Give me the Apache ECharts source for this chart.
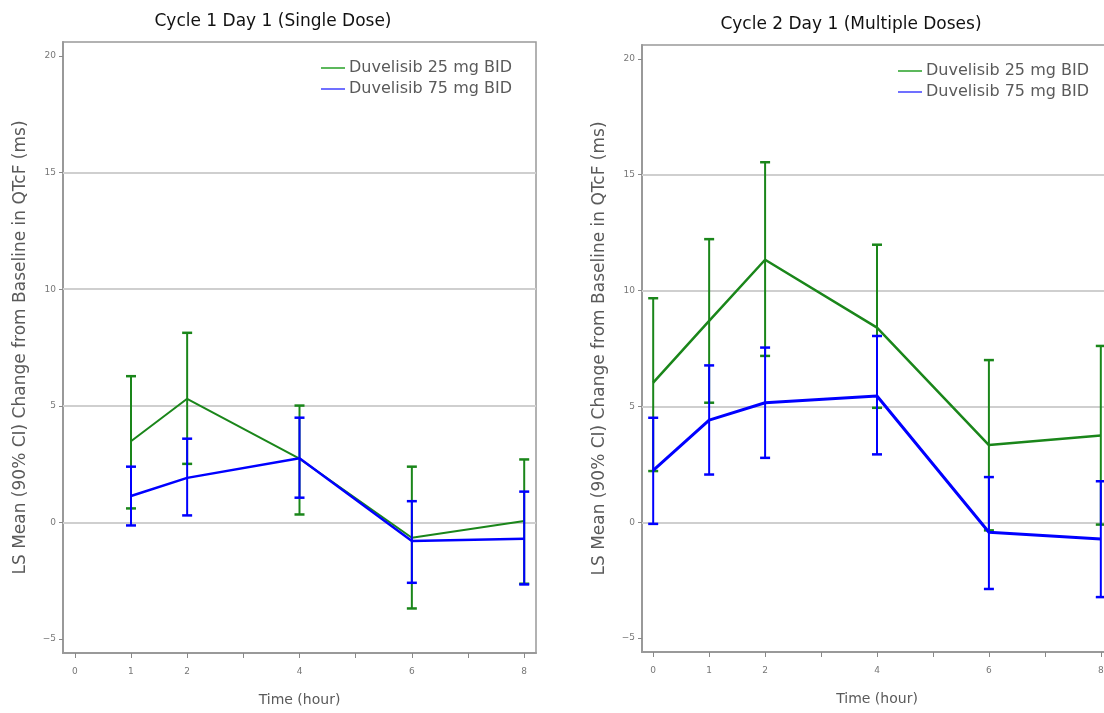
<!DOCTYPE html>
<html>
<head>
<meta charset="utf-8">
<script src="https://cdn.jsdelivr.net/npm/echarts@6/dist/echarts.min.js"></script>
<style>
  body { margin: 0; background: #fff; }
  #chart-container { width: 1104px; height: 713px; }
</style>
</head>
<body>
<div id="chart-container"></div>
<script>
// 数据
const seriesNames = ['Duvelisib 25 mg BID', 'Duvelisib 75 mg BID'];
const panelTitles = ['Cycle 1 Day 1 (Single Dose)', 'Cycle 2 Day 1 (Multiple Doses)'];

const c1Hours = [1, 2, 4, 6, 8];
const c1Mean25 = [3.48, 5.30, 2.73, -0.66, 0.06];
const c1Upper25 = [6.27, 8.13, 5.01, 2.39, 2.70];
const c1Lower25 = [0.60, 2.51, 0.34, -3.69, -2.63];
const c1Mean75 = [1.13, 1.91, 2.75, -0.80, -0.70];
const c1Upper75 = [2.39, 3.59, 4.49, 0.91, 1.32];
const c1Lower75 = [-0.13, 0.30, 1.06, -2.59, -2.66];

const c2Hours = [0, 1, 2, 4, 6, 8];
const c2Mean25 = [6.03, 8.69, 11.33, 8.40, 3.33, 3.75];
const c2Upper25 = [9.67, 12.22, 15.54, 11.98, 7.00, 7.61];
const c2Lower25 = [2.21, 5.16, 7.18, 4.94, -0.35, -0.10];
const c2Mean75 = [2.24, 4.41, 5.16, 5.45, -0.43, -0.72];
const c2Upper75 = [4.51, 6.77, 7.54, 8.04, 1.95, 1.77];
const c2Lower75 = [-0.07, 2.06, 2.78, 2.93, -2.88, -3.23];

const xTicks = [0, 1, 2, 3, 4, 5, 6, 7, 8];
const xTickLabels = [0, 1, 2, 4, 6, 8];
const yTicks = [-5, 0, 5, 10, 15, 20];
const refLines = [0, 5, 10, 15];

document.addEventListener('DOMContentLoaded', () => {
    const chart = echarts.init(document.getElementById('chart-container'));
    const font = 'DejaVu Sans';
    const green = '#1a861a';
    const blue = '#0000ff';
    const textGray = '#5a5a5a';

    // 误差线
    const errorBars = (name, color, hours, lower, upper, idx, z) => ({
        name: name,
        type: 'custom',
        xAxisIndex: idx,
        yAxisIndex: idx,
        z: z,
        silent: true,
        data: hours.map((h, i) => [h, lower[i], upper[i]]),
        renderItem: (params, api) => {
            const lo = api.coord([api.value(0), api.value(1)]);
            const hi = api.coord([api.value(0), api.value(2)]);
            const w = 5;
            return {
                type: 'group',
                children: [
                    { type: 'line', shape: { x1: lo[0], y1: lo[1], x2: hi[0], y2: hi[1] }, style: { stroke: color, lineWidth: 2 } },
                    { type: 'line', shape: { x1: lo[0] - w, y1: lo[1], x2: lo[0] + w, y2: lo[1] }, style: { stroke: color, lineWidth: 2.5 } },
                    { type: 'line', shape: { x1: hi[0] - w, y1: hi[1], x2: hi[0] + w, y2: hi[1] }, style: { stroke: color, lineWidth: 2.5 } }
                ]
            };
        }
    });

    const meanLine = (name, color, width, hours, mean, idx, z) => ({
        name: name,
        type: 'line',
        xAxisIndex: idx,
        yAxisIndex: idx,
        z: z,
        symbol: 'none',
        lineStyle: { color: color, width: width },
        itemStyle: { color: color },
        data: hours.map((h, i) => [h, mean[i]])
    });

    const gridLines = (idx) => ({
        type: 'line',
        xAxisIndex: idx,
        yAxisIndex: idx,
        data: [],
        silent: true,
        markLine: {
            silent: true,
            symbol: 'none',
            z: 1,
            label: { show: false },
            lineStyle: { color: '#cfcfcf', width: 2, type: 'solid' },
            data: refLines.map(v => ({ yAxis: v }))
        }
    });

    const xAxis = (idx) => ({
        type: 'value',
        gridIndex: idx,
        min: idx === 0 ? -0.21 : -0.2,
        max: idx === 0 ? 8.21 : 8.2,
        name: 'Time (hour)',
        nameLocation: 'middle',
        nameGap: 40,
        nameTextStyle: { fontFamily: font, fontSize: 14, color: textGray },
        axisLine: { onZero: false, lineStyle: { color: '#999', width: 2 } },
        axisTick: { show: true, customValues: xTicks, length: 5, lineStyle: { color: '#888' } },
        axisLabel: { customValues: xTickLabels, fontFamily: font, fontSize: 9, color: '#777', margin: 14 },
        splitLine: { show: false }
    });

    const yAxis = (idx) => ({
        type: 'value',
        gridIndex: idx,
        min: -5.6,
        max: 20.6,
        name: 'LS Mean (90% CI) Change from Baseline in QTcF (ms)',
        nameLocation: 'middle',
        nameGap: 34,
        nameTextStyle: { fontFamily: font, fontSize: 17, color: textGray },
        axisLine: { onZero: false, lineStyle: { color: '#999', width: 2 } },
        axisTick: { show: true, customValues: yTicks, length: 4, lineStyle: { color: '#888' } },
        axisLabel: {
            customValues: yTicks,
            fontFamily: font,
            fontSize: 9,
            color: '#777',
            margin: 7,
            formatter: v => (v < 0 ? '\u2212' + Math.abs(v) : String(v))
        },
        splitLine: { show: false }
    });

    const legend = (left, top) => ({
        left: left,
        top: top,
        orient: 'vertical',
        icon: 'rect',
        itemWidth: 24,
        itemHeight: 2,
        itemGap: 5,
        textStyle: { fontFamily: font, fontSize: 16, color: textGray, padding: [0, 0, 0, -1] },
        data: [
            { name: seriesNames[0], itemStyle: { color: '#5cb85c', borderWidth: 0 } },
            { name: seriesNames[1], itemStyle: { color: '#7070ff', borderWidth: 0 } }
        ]
    });

    const option = {
        animation: false,
        backgroundColor: '#fff',
        title: [
            { text: panelTitles[0], left: 268, top: 8, textAlign: 'center',
              textStyle: { fontFamily: font, fontSize: 17, fontWeight: 'normal', color: '#111' } },
            { text: panelTitles[1], left: 846, top: 11, textAlign: 'center',
              textStyle: { fontFamily: font, fontSize: 17, fontWeight: 'normal', color: '#111' } }
        ],
        legend: [legend(316, 55), legend(893, 58)],
        grid: [
            { left: 63, top: 42, width: 473, height: 611, outerBoundsMode: 'none',
              show: true, borderColor: '#999', borderWidth: 1.5 },
            { left: 642, top: 45, width: 470, height: 607, outerBoundsMode: 'none',
              show: true, borderColor: '#999', borderWidth: 1.5 }
        ],
        xAxis: [xAxis(0), xAxis(1)],
        yAxis: [yAxis(0), yAxis(1)],
        series: [
            gridLines(0),
            errorBars(seriesNames[0], green, c1Hours, c1Lower25, c1Upper25, 0, 3),
            meanLine(seriesNames[0], green, 2, c1Hours, c1Mean25, 0, 4),
            errorBars(seriesNames[1], blue, c1Hours, c1Lower75, c1Upper75, 0, 5),
            meanLine(seriesNames[1], blue, 2.5, c1Hours, c1Mean75, 0, 6),
            gridLines(1),
            errorBars(seriesNames[0], green, c2Hours, c2Lower25, c2Upper25, 1, 3),
            meanLine(seriesNames[0], green, 2.5, c2Hours, c2Mean25, 1, 4),
            errorBars(seriesNames[1], blue, c2Hours, c2Lower75, c2Upper75, 1, 5),
            meanLine(seriesNames[1], blue, 3, c2Hours, c2Mean75, 1, 6)
        ]
    };

    chart.setOption(option);
});
</script>
</body>
</html>
